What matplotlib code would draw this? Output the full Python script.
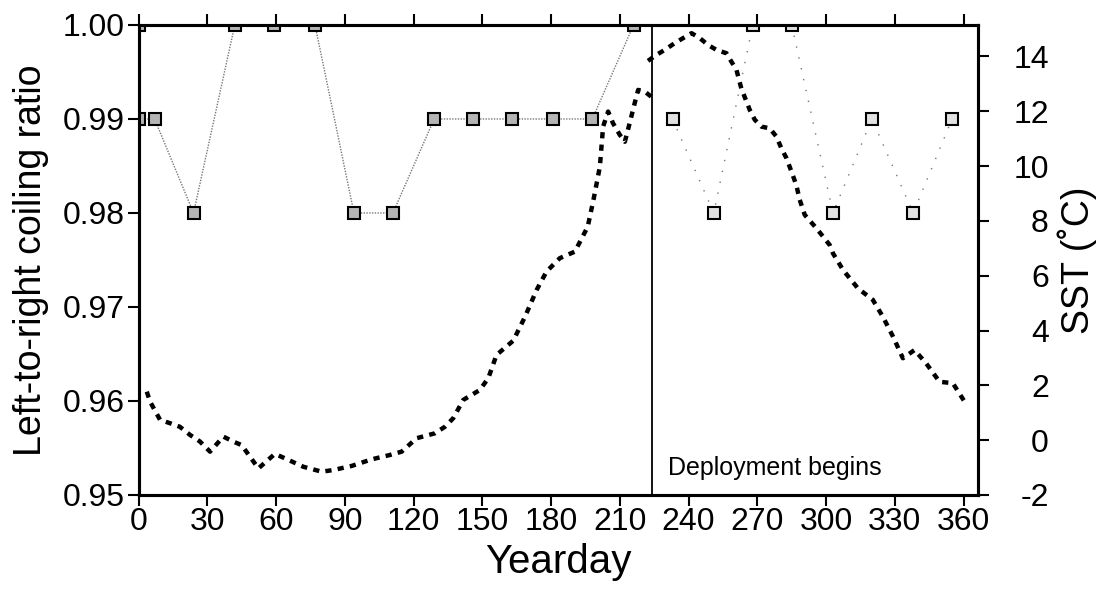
import numpy as np
import matplotlib.pyplot as plt

plt.rcParams['font.family'] = ['Liberation Sans', 'DejaVu Sans']
plt.rcParams['axes.unicode_minus'] = False

# coiling ratio samples (yearday, left-to-right ratio)
ratio_day = [0, 0, 7, 24, 42, 59, 77, 94, 111, 129, 146, 163, 181, 198, 216,
             233, 251, 268, 285, 303, 320, 338, 355]
ratio_val = [1.00, 0.99, 0.99, 0.98, 1.00, 1.00, 1.00, 0.98, 0.98, 0.99, 0.99, 0.99,
             0.99, 0.99, 1.00,
             0.99, 0.98, 1.00, 1.00, 0.98, 0.99, 0.98, 0.99]
n_pre = 15  # samples before deployment

# sea surface temperature (yearday, degC); nan marks the break in the record
sst_day = [3.6, 5, 9.4, 13.7, 18, 22.5, 26.8, 31.2, 37, 41.3, 45, 48.6, 52.3, 59.5,
           64.6, 71.9, 79.9, 85, 93, 101.7, 109.7, 114.8, 121.3, 129.3, 133.7, 137.3,
           141.7, 148.9, 152.6, 156.2, 163.5, 168.6, 173.7, 178, 183.8, 190.4, 196,
           198.5, 201.3, 202.7, 204.9, 207, 210, 212.2, 214.3, 216.5, 218, 220.9, 224.5,
           np.nan,
           222.3, 226, 229.6, 234, 237.6, 241.3, 244.9, 248.5, 252.2, 256.5, 258.7,
           260.9, 263, 266.7, 268.9, 271.8, 275.4, 278.3, 280.5, 282.7, 284.9, 287,
           288.5, 290.7, 295.8, 301.6, 303, 307.4, 313.9, 320.4, 324.8, 329.2, 333.5,
           338.6, 343.7, 349.5, 355.3, 360.4]
sst_val = [1.77, 1.41, 0.74, 0.62, 0.49, 0.19, -0.05, -0.42, 0.13, -0.05, -0.18, -0.6,
           -1.03, -0.5, -0.69, -0.97, -1.15, -1.09, -0.94, -0.7, -0.54, -0.42, 0.07, 0.25,
           0.49, 0.80, 1.47, 1.83, 2.26, 3.11, 3.63, 4.5, 5.48, 6.15, 6.64, 6.88, 7.79,
           8.77, 9.98, 11.44, 11.99, 11.57, 11.14, 10.89, 11.57, 12.3, 12.78, 12.72, 12.48,
           np.nan,
           13.84, 14.06, 14.24, 14.49, 14.67, 14.85, 14.67, 14.42, 14.24, 14.12, 13.81,
           13.51, 12.84, 12.05, 11.69, 11.44, 11.38, 11.08, 10.65, 10.29, 9.8, 9.31,
           8.77, 8.22, 7.73, 7.12, 6.82, 6.21, 5.54, 5.12, 4.5, 3.78, 2.99,
           3.29, 2.8, 2.13, 2.08, 1.41]

deploy_day = 224

fig = plt.figure(figsize=(11.03, 5.96), dpi=100)
ax = fig.add_axes([0.1256, 0.1695, 0.7611, 0.7886])

ax.plot(ratio_day[:n_pre], ratio_val[:n_pre], color='#777777', lw=1.0,
        linestyle=(0, (1, 1)), zorder=2)
ax.plot(ratio_day[n_pre:], ratio_val[n_pre:], color='#777777', lw=1.0,
        linestyle=(0, (1, 7)), zorder=2)
ax.plot(ratio_day[:n_pre], ratio_val[:n_pre], 's', ms=8, mfc='#b5b5b5', mec='black',
        mew=1.5, linestyle='none', zorder=3)
ax.plot(ratio_day[n_pre:], ratio_val[n_pre:], 's', ms=8, mfc='#e2e2e2', mec='black',
        mew=1.5, linestyle='none', zorder=3)

ax.axvline(deploy_day, color='black', lw=1.3, zorder=4)
ax.text(231, 0.9521, 'Deployment begins', fontsize=18, va='baseline', ha='left')

ax.set_xlim(0, 366.3)
ax.set_ylim(0.95, 1.00)
ax.set_xticks(np.arange(0, 361, 30))
ax.set_yticks([0.95, 0.96, 0.97, 0.98, 0.99, 1.00])
ax.set_yticklabels(['0.95', '0.96', '0.97', '0.98', '0.99', '1.00'])
ax.tick_params(axis='both', direction='out', length=8, width=1.5, labelsize=23, pad=2)
ax.tick_params(axis='x', top=True, pad=1)
ax.set_xlabel('Yearday', fontsize=29, labelpad=4)
ax.set_ylabel('Left-to-right coiling ratio', fontsize=27, labelpad=10)

ax2 = ax.twinx()
ax2.plot(sst_day, sst_val, color='black', lw=3.2, linestyle=(0, (1.4, 1.4)), zorder=5)
ax2.set_ylim(-2, 15.15)
ax2.set_yticks(np.arange(-2, 15, 2))
ax2.tick_params(axis='y', direction='out', length=8, width=1.5, labelsize=23, pad=43)
for lab in ax2.get_yticklabels():
    lab.set_ha('right')
ax2.set_ylabel('SST (˚C)', fontsize=27, labelpad=6)

for a in (ax, ax2):
    for s in a.spines.values():
        s.set_linewidth(2.2)

fig.savefig('out.png', dpi=100)
